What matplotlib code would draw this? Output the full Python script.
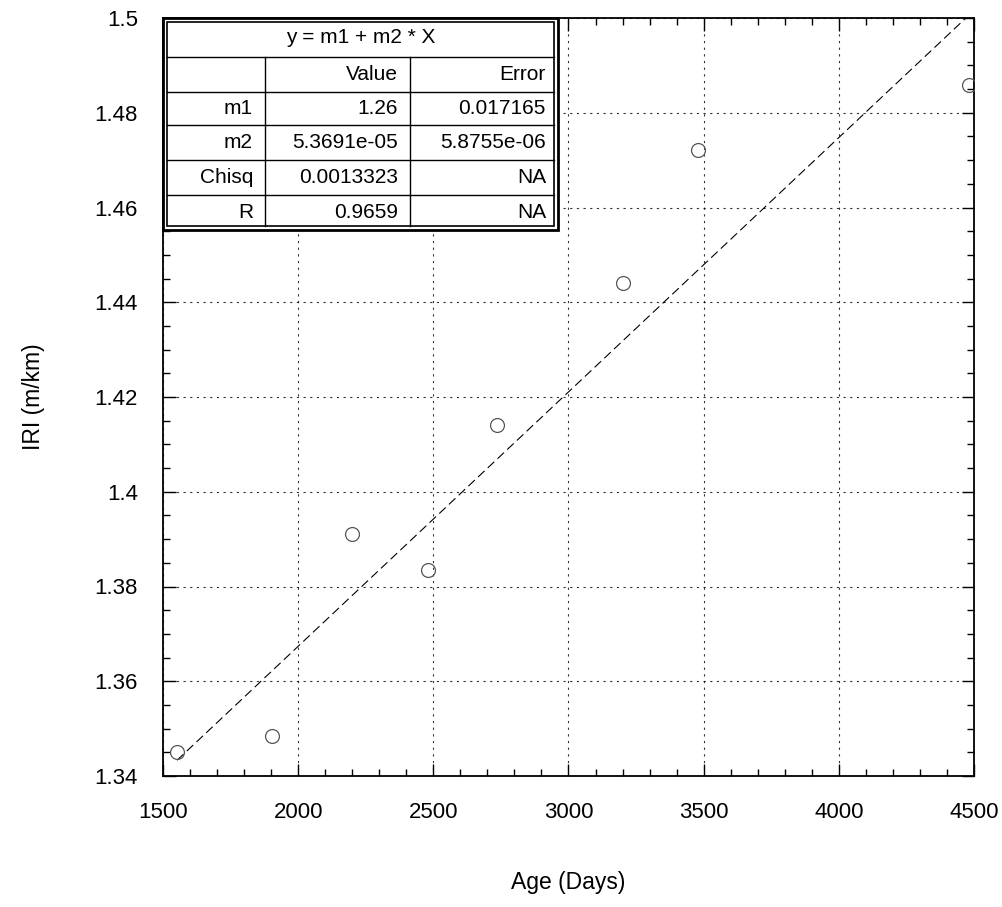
import matplotlib
matplotlib.use("Agg")
import matplotlib.pyplot as plt
from matplotlib.patches import Rectangle
from matplotlib.ticker import MultipleLocator
import numpy as np

plt.rcParams['font.family'] = ['Liberation Sans', 'DejaVu Sans']

# Data
age_days = [1552, 1903, 2199, 2480, 2736, 3202, 3479, 4482]
iri = [1.3451, 1.3484, 1.3911, 1.3835, 1.4141, 1.4441, 1.4721, 1.4859]

# Fit parameters
m1 = 1.26
m2 = 5.3691e-05

# Table contents
table_title = "y = m1 + m2 * X"
table_header = ["", "Value", "Error"]
table_rows = [
    ["m1", "1.26", "0.017165"],
    ["m2", "5.3691e-05", "5.8755e-06"],
    ["Chisq", "0.0013323", "NA"],
    ["R", "0.9659", "NA"],
]

x_ticks = [1500, 2000, 2500, 3000, 3500, 4000, 4500]
y_ticks = [1.34, 1.36, 1.38, 1.40, 1.42, 1.44, 1.46, 1.48, 1.50]
y_tick_labels = ["1.34", "1.36", "1.38", "1.4", "1.42", "1.44", "1.46", "1.48", "1.5"]

fig = plt.figure(figsize=(10.03, 9.07), dpi=100)
ax = fig.add_axes([163/1003, 131/907, 811/1003, 758/907])

ax.set_xlim(1500, 4500)
ax.set_ylim(1.34, 1.50)

ax.set_xticks(x_ticks)
ax.set_yticks(y_ticks)
ax.set_yticklabels(y_tick_labels)
ax.xaxis.set_minor_locator(MultipleLocator(100))
ax.yaxis.set_minor_locator(MultipleLocator(0.005))
ax.grid(True, which='major', linestyle=(0, (2, 4)), color='black', linewidth=0.8, alpha=0.8)

ax.tick_params(which='both', direction='in', top=True, right=True, labelsize=16)
ax.tick_params(axis='x', which='major', pad=19)
ax.tick_params(axis='y', which='major', pad=18)
ax.tick_params(which='major', length=9, width=1)
ax.tick_params(which='minor', length=5, width=1)
for s in ax.spines.values():
    s.set_linewidth(1.3)

# fit line
xf = np.array([min(age_days), max(age_days)])
ax.plot(xf, m1 + m2 * xf, linestyle=(0, (8, 4)), color='black', linewidth=0.8, zorder=3)

# points
ax.plot(age_days, iri, linestyle='none', marker='o', markersize=10,
        markerfacecolor='none', markeredgecolor='#555555', markeredgewidth=0.9, zorder=4)

ax.set_xlabel("Age (Days)", fontsize=16.5, labelpad=34)
ax.set_ylabel("IRI (m/km)", fontsize=16.5, labelpad=36)

# table (axes coordinates)
def axx(px):
    return (px - 163) / 811
def axy(py):
    return (776 - py) / 758

left, right = axx(163), axx(558)
top, bottom = axy(18), axy(230)
col_edges = [axx(163), axx(265), axx(410), axx(558)]
row_edges = [axy(18), axy(57), axy(92), axy(125), axy(160), axy(195), axy(230)]

tr = ax.transAxes
ax.add_patch(Rectangle((left, bottom), right - left, top - bottom, transform=tr,
                       facecolor='white', edgecolor='black', linewidth=2, zorder=10, clip_on=False))
inset_x = 4 / 811
inset_y = 4 / 758
ax.add_patch(Rectangle((left + inset_x, bottom + inset_y), right - left - 2 * inset_x,
                       top - bottom - 2 * inset_y, transform=tr,
                       facecolor='none', edgecolor='black', linewidth=1.2, zorder=11, clip_on=False))
for ry in row_edges[1:-1]:
    ax.plot([left + inset_x, right - inset_x], [ry, ry], transform=tr, color='black', linewidth=1, zorder=11)
for cx in col_edges[1:-1]:
    ax.plot([cx, cx], [row_edges[1], bottom + inset_y], transform=tr, color='black', linewidth=1, zorder=11)

ax.text((left + right) / 2, (row_edges[0] + row_edges[1]) / 2, table_title, transform=tr,
        ha='center', va='center', fontsize=15, zorder=12)
pad = 12 / 811
all_rows = [table_header] + table_rows
for i, row in enumerate(all_rows):
    yc = (row_edges[i + 1] + row_edges[i + 2]) / 2
    for j, cell in enumerate(row):
        ax.text(col_edges[j + 1] - pad, yc, cell, transform=tr, ha='right', va='center',
                fontsize=15, zorder=12)

fig.savefig("out.png", dpi=100)
